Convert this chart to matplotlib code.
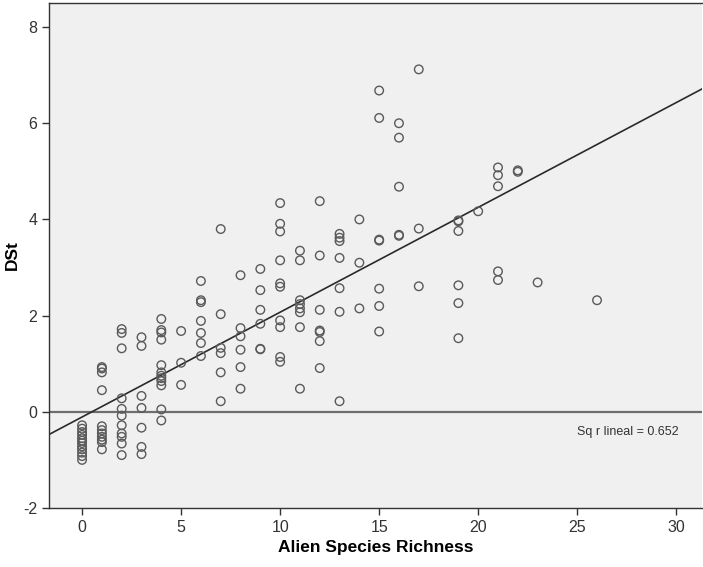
import numpy as np
import matplotlib
matplotlib.use("Agg")
import matplotlib.pyplot as plt

plt.rcParams["font.family"] = ["Liberation Sans", "DejaVu Sans"]
plt.rcParams["axes.unicode_minus"] = False

# values, one column of points per richness value
richness = [0, 0, 0, 0, 0, 0, 0, 0, 0, 0, 0, 0,
            1, 1, 1, 1, 1, 1, 1, 1, 1, 1, 1,
            2, 2, 2, 2, 2, 2, 2, 2, 2, 2, 2,
            3, 3, 3, 3, 3, 3, 3,
            4, 4, 4, 4, 4, 4, 4, 4, 4, 4, 4, 4,
            5, 5, 5,
            6, 6, 6, 6, 6, 6, 6,
            7, 7, 7, 7, 7, 7,
            8, 8, 8, 8, 8, 8,
            9, 9, 9, 9, 9, 9,
            10, 10, 10, 10, 10, 10, 10, 10, 10, 10,
            11, 11, 11, 11, 11, 11, 11, 11,
            12, 12, 12, 12, 12, 12, 12,
            13, 13, 13, 13, 13, 13, 13,
            14, 14, 14,
            15, 15, 15, 15, 15, 15, 15,
            16, 16, 16, 16, 16,
            17, 17, 17,
            19, 19, 19, 19, 19, 19,
            20,
            21, 21, 21, 21, 21,
            22, 22,
            23,
            26]

dst = [-0.28, -0.35, -0.42, -0.48, -0.55, -0.60, -0.65, -0.72, -0.78, -0.85, -0.92, -1.00,
       0.93, 0.90, 0.82, 0.45, -0.30, -0.38, -0.45, -0.52, -0.58, -0.63, -0.78,
       1.72, 1.64, 1.32, 0.28, 0.06, -0.08, -0.28, -0.45, -0.52, -0.66, -0.90,
       1.55, 1.37, 0.33, 0.08, -0.33, -0.73, -0.88,
       1.93, 1.70, 1.65, 1.50, 0.97, 0.82, 0.75, 0.70, 0.64, 0.55, 0.05, -0.18,
       1.68, 1.02, 0.56,
       2.72, 2.32, 2.28, 1.89, 1.64, 1.43, 1.16,
       3.80, 2.03, 1.33, 1.22, 0.82, 0.22,
       2.84, 1.74, 1.57, 1.29, 0.93, 0.48,
       2.97, 2.53, 2.12, 1.83, 1.31, 1.30,
       4.34, 3.91, 3.75, 3.15, 2.67, 2.60, 1.90, 1.76, 1.14, 1.04,
       3.35, 3.15, 2.32, 2.24, 2.15, 2.07, 1.76, 0.48,
       4.38, 3.25, 2.12, 1.69, 1.66, 1.47, 0.91,
       3.70, 3.62, 3.55, 3.20, 2.57, 2.08, 0.22,
       4.00, 3.10, 2.15,
       6.68, 6.11, 3.58, 3.56, 2.56, 2.20, 1.67,
       6.00, 5.70, 4.68, 3.68, 3.66,
       7.12, 3.81, 2.61,
       3.98, 3.96, 3.76, 2.63, 2.26, 1.53,
       4.17,
       5.08, 4.92, 4.69, 2.92, 2.74,
       5.02, 4.99,
       2.69,
       2.32]

x_ticks = [0, 5, 10, 15, 20, 25, 30]
y_ticks = [-2, 0, 2, 4, 6, 8]
r2_label = "Sq r lineal = 0.652"

x = np.array(richness, dtype=float)
y = np.array(dst)

fig = plt.figure(figsize=(7.03, 5.67), dpi=100)
ax = fig.add_axes([49 / 703, 59 / 567, 653 / 703, 505 / 567])
ax.set_facecolor("#f0f0f0")

xlim = (-1.67, 31.3)
ylim = (-2, 8.5)
ax.set_xlim(*xlim)
ax.set_ylim(*ylim)

ax.axhline(0, color="#6e6e6e", lw=1.6, zorder=1)

# fit line across the whole axis width
slope, icept = np.polyfit(x, y, 1)
xl = np.array(xlim)
ax.plot(xl, icept + slope * xl, color="#2a2a2a", lw=1.2, zorder=2)

ax.scatter(x, y, s=38, facecolors="none", edgecolors="#5a5a5a", linewidths=1.0, zorder=3)

ax.text(27.55, -0.42, r2_label, fontsize=9, color="#333333", ha="center", va="center")

ax.set_xticks(x_ticks)
ax.set_yticks(y_ticks)
ax.tick_params(direction="out", length=5, width=1, colors="#333333", labelsize=11.5)
ax.spines["right"].set_visible(False)
for s in ["left", "bottom", "top"]:
    ax.spines[s].set_color("#333333")
    ax.spines[s].set_linewidth(1.0)

ax.set_xlabel("Alien Species Richness", fontsize=12.5, fontweight="bold", labelpad=4)
ax.set_ylabel("DSt", fontsize=12.5, fontweight="bold")
ax.yaxis.set_label_coords(-0.044, 0.5)

fig.savefig("out.png", dpi=100)
